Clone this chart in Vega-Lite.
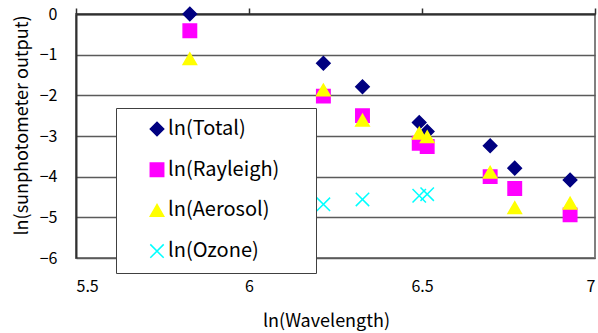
{
  "$schema": "https://vega.github.io/schema/vega-lite/v6.json",
  "autosize": {"type": "none"},
  "width": 519,
  "height": 244,
  "padding": {"left": 76, "top": 14, "right": 3, "bottom": 75},
  "background": "white",
  "config": {
    "font": "Noto Sans CJK JP",
    "view": {"stroke": "#808080", "strokeWidth": 2},
    "axis": {"labelFont": "Noto Sans CJK JP", "titleFont": "Noto Sans CJK JP", "labelColor": "black", "titleColor": "black", "titleFontWeight": "normal"}
  },
  "data": {
    "values": [
      {"lnw": 5.829, "v": 0.0, "series": "ln(Total)"},
      {"lnw": 6.215, "v": -1.21, "series": "ln(Total)"},
      {"lnw": 6.328, "v": -1.79, "series": "ln(Total)"},
      {"lnw": 6.492, "v": -2.67, "series": "ln(Total)"},
      {"lnw": 6.515, "v": -2.89, "series": "ln(Total)"},
      {"lnw": 6.697, "v": -3.24, "series": "ln(Total)"},
      {"lnw": 6.768, "v": -3.79, "series": "ln(Total)"},
      {"lnw": 6.928, "v": -4.08, "series": "ln(Total)"},
      {"lnw": 5.829, "v": -0.41, "series": "ln(Rayleigh)"},
      {"lnw": 6.215, "v": -2.02, "series": "ln(Rayleigh)"},
      {"lnw": 6.328, "v": -2.5, "series": "ln(Rayleigh)"},
      {"lnw": 6.492, "v": -3.18, "series": "ln(Rayleigh)"},
      {"lnw": 6.515, "v": -3.26, "series": "ln(Rayleigh)"},
      {"lnw": 6.697, "v": -4.0, "series": "ln(Rayleigh)"},
      {"lnw": 6.768, "v": -4.29, "series": "ln(Rayleigh)"},
      {"lnw": 6.928, "v": -4.94, "series": "ln(Rayleigh)"},
      {"lnw": 5.829, "v": -1.1, "series": "ln(Aerosol)"},
      {"lnw": 6.215, "v": -1.87, "series": "ln(Aerosol)"},
      {"lnw": 6.328, "v": -2.61, "series": "ln(Aerosol)"},
      {"lnw": 6.492, "v": -2.93, "series": "ln(Aerosol)"},
      {"lnw": 6.515, "v": -3.02, "series": "ln(Aerosol)"},
      {"lnw": 6.697, "v": -3.89, "series": "ln(Aerosol)"},
      {"lnw": 6.768, "v": -4.76, "series": "ln(Aerosol)"},
      {"lnw": 6.928, "v": -4.65, "series": "ln(Aerosol)"},
      {"lnw": 6.215, "v": -4.68, "series": "ln(Ozone)"},
      {"lnw": 6.328, "v": -4.56, "series": "ln(Ozone)"},
      {"lnw": 6.492, "v": -4.47, "series": "ln(Ozone)"},
      {"lnw": 6.515, "v": -4.43, "series": "ln(Ozone)"}
    ]
  },
  "resolve": {"axis": {"x": "independent"}},
  "layer": [
    {
      "mark": {"type": "point", "filled": true, "opacity": 1, "size": 180, "strokeWidth": 1.5},
      "encoding": {
        "x": {
          "field": "lnw", "type": "quantitative",
          "scale": {"domain": [5.5, 7], "nice": false, "zero": false},
          "axis": {
            "orient": "bottom", "values": [5.5, 6, 6.5, 7], "format": "~g",
            "grid": false, "domain": false, "ticks": false,
            "labelFontSize": 16, "labelPadding": 20,
            "title": "ln(Wavelength)", "titleFontSize": 18,
            "titleX": 250, "titleY": 68, "titleBaseline": "alphabetic", "titleAlign": "center"
          }
        },
        "y": {
          "field": "v", "type": "quantitative",
          "scale": {"domain": [-6, 0], "nice": false, "zero": false},
          "axis": {
            "values": [-6, -5, -4, -3, -2, -1, 0],
            "grid": true, "gridColor": "#5a5a5a", "gridWidth": 1.5,
            "domain": true, "domainColor": "#303030", "domainWidth": 2,
            "ticks": false, "labelFontSize": 16, "labelPadding": 19,
            "title": "ln(sunphotometer output)", "titleFontSize": 18,
            "titleX": -49, "titleY": 111, "titleBaseline": "alphabetic", "titleAlign": "center", "titleAngle": -90
          }
        },
        "color": {
          "field": "series", "type": "nominal",
          "scale": {"domain": ["ln(Total)", "ln(Rayleigh)", "ln(Aerosol)", "ln(Ozone)"], "range": ["#000080", "#FF00FF", "#FFFF00", "#00FFFF"]},
          "legend": {
            "title": null, "orient": "none", "legendX": 40, "legendY": 94,
            "fillColor": "white", "strokeColor": "#404040",
            "padding": 11, "symbolOffset": 20, "rowPadding": 20.7,
            "labelFontSize": 20, "labelFont": "Noto Sans CJK JP", "labelColor": "black",
            "symbolSize": 180, "symbolStrokeWidth": 1.5, "labelOffset": 1,
            "labelExpr": "datum.label + '\u2002\u2800'"
          }
        },
        "stroke": {
          "field": "series", "type": "nominal",
          "scale": {"domain": ["ln(Total)", "ln(Rayleigh)", "ln(Aerosol)", "ln(Ozone)"], "range": ["#000080", "#FF00FF", "#FFFF00", "#00FFFF"]}
        },
        "shape": {
          "field": "series", "type": "nominal",
          "scale": {"domain": ["ln(Total)", "ln(Rayleigh)", "ln(Aerosol)", "ln(Ozone)"], "range": ["diamond", "square", "triangle-up", "M-1,-1L1,1M-1,1L1,-1"]}
        }
      }
    },
    {
      "mark": {"type": "point", "opacity": 0},
      "encoding": {
        "x": {
          "field": "lnw", "type": "quantitative",
          "scale": {"domain": [5.5, 7], "nice": false, "zero": false},
          "axis": {
            "orient": "top", "values": [5.5, 6, 6.5, 7], "labels": false, "grid": false,
            "domain": true, "domainColor": "#303030", "domainWidth": 2,
            "ticks": true, "tickSize": 6, "tickColor": "#303030", "tickWidth": 1.5, "title": null
          }
        }
      }
    }
  ]
}
